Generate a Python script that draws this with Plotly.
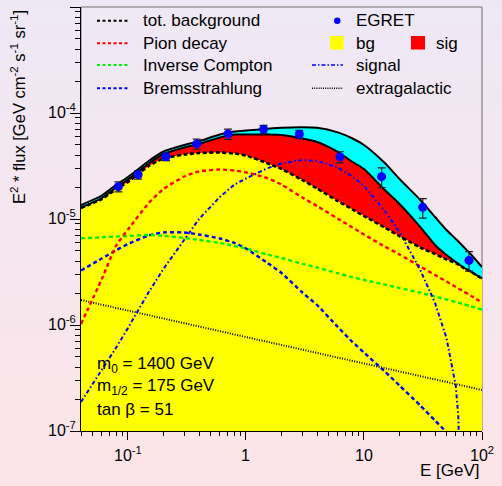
import base64
import math
import plotly.graph_objects as go

# ---------------------------------------------------------------
# Diffuse gamma-ray spectrum: galactic background components,
# neutralino annihilation signal and EGRET data (E^2 * flux)
# ---------------------------------------------------------------

# common energy grid (GeV) for the background components and the bands
energy = [0.04, 0.06, 0.08, 0.1, 0.15, 0.2, 0.3, 0.4, 0.6, 0.8, 1, 1.5, 2, 3, 4,
          6, 8, 10, 15, 20, 30, 40, 50, 60, 70, 80, 100]

# upper edge of the uncertainty band
total_upper = [1.355e-5, 1.666e-5, 2.116e-5, 2.490e-5, 3.526e-5, 4.333e-5, 4.99e-5,
               5.41e-5, 6.27e-5, 6.69e-5, 6.84e-5, 7.09e-5, 7.25e-5, 7.33e-5, 7.25e-5,
               6.57e-5, 5.75e-5, 4.99e-5, 3.375e-5, 2.384e-5, 1.511e-5, 1.044e-5,
               7.87e-6, 6.48e-6, 5.44e-6, 4.675e-6, 3.526e-6]

# background + signal
bg_plus_signal = [1.284e-5, 1.578e-5, 2.004e-5, 2.358e-5, 3.339e-5, 4.104e-5, 4.727e-5,
                  5.101e-5, 5.874e-5, 6.27e-5, 6.27e-5, 6.27e-5, 6.20e-5, 5.75e-5, 5.325e-5,
                  4.287e-5, 3.449e-5, 2.962e-5, 1.877e-5, 1.385e-5, 8.40e-6, 5.685e-6,
                  4.575e-6, 3.93e-6, 3.487e-6, 3.196e-6, 2.745e-6]

total_background = [1.270e-5, 1.544e-5, 1.919e-5, 2.234e-5, 3.162e-5, 3.722e-5, 4.06e-5,
                    4.194e-5, 4.24e-5, 4.15e-5, 3.972e-5, 3.375e-5, 2.962e-5, 2.333e-5,
                    1.940e-5, 1.478e-5, 1.229e-5, 1.067e-5, 8.31e-6, 6.91e-6, 5.38e-6,
                    4.675e-6, 4.15e-6, 3.845e-6, 3.449e-6, 3.196e-6, 2.745e-6]

pion_decay = [1.022e-6, 2.716e-6, 5.685e-6, 7.96e-6, 1.416e-5, 1.919e-5, 2.518e-5,
              2.806e-5, 2.931e-5, 2.867e-5, 2.758e-5, 2.437e-5, 2.116e-5, 1.595e-5,
              1.327e-5, 1.006e-5, 8.31e-6, 7.14e-6, 5.50e-6, 4.625e-6, 3.56e-6,
              2.962e-6, 2.573e-6, 2.283e-6, 2.070e-6, 1.898e-6, 1.630e-6]

inverse_compton = [6.57e-6, 6.72e-6, 6.84e-6, 6.91e-6, 7.07e-6, 6.94e-6, 6.62e-6,
                   6.34e-6, 5.94e-6, 5.56e-6, 5.27e-6, 4.645e-6, 4.29e-6, 3.779e-6,
                   3.487e-6, 3.074e-6, 2.825e-6, 2.658e-6, 2.405e-6, 2.234e-6, 2.013e-6,
                   1.857e-6, 1.740e-6, 1.648e-6, 1.568e-6, 1.501e-6, 1.397e-6]

bremsstrahlung = [3.267e-6, 4.24e-6, 5.10e-6, 5.81e-6, 6.99e-6, 7.46e-6, 7.46e-6,
                  7.14e-6, 6.55e-6, 5.94e-6, 5.27e-6, 3.887e-6, 3.095e-6, 2.026e-6,
                  1.544e-6, 9.57e-7, 6.91e-7, 5.50e-7, 3.64e-7, 2.687e-7, 1.740e-7,
                  1.256e-7, 9.78e-8, 8.05e-8, 6.76e-8, 5.81e-8, 4.575e-8]

# neutralino annihilation signal (cut-off at the neutralino mass)
energy_signal = [0.04, 0.06, 0.08, 0.1, 0.15, 0.2, 0.3, 0.4, 0.6, 0.8, 1, 1.5, 2, 3, 4,
                 6, 8, 10, 15, 20, 30, 40, 50, 60, 63, 64, 65]
signal = [1.877e-7, 3.762e-7, 6.20e-7, 9.37e-7, 2.048e-6, 3.38e-6, 6.34e-6, 1.0e-5,
          1.612e-5, 2.116e-5, 2.411e-5, 2.995e-5, 3.339e-5, 3.603e-5, 3.526e-5, 3.06e-5,
          2.518e-5, 2.048e-5, 1.190e-5, 7.54e-6, 3.303e-6, 1.613e-6, 7.54e-7, 2.658e-7,
          1.364e-7, 9.2e-8, 3.0e-8]

energy_extragalactic = [0.04, 1, 100]
extragalactic = [1.72e-6, 7.74e-7, 2.44e-7]

egret_energy = [0.083, 0.122, 0.210, 0.383, 0.705, 1.41, 2.83, 6.26, 14.1, 31.5, 77.6]
egret_flux = [2.02e-5, 2.62e-5, 3.87e-5, 5.11e-5, 6.34e-5, 7.02e-5, 6.30e-5, 3.85e-5,
              2.51e-5, 1.29e-5, 4.07e-6]
egret_error = [2.2e-6, 2.4e-6, 3.1e-6, 5.6e-6, 7.0e-6, 6.3e-6, 5.7e-6, 4.6e-6, 5.3e-6,
               2.7e-6, 8.5e-7]

x_major = [0.1, 1, 10, 100]
x_tick_text = ["10<sup>-1</sup>", "1", "10", "10<sup>2</sup>"]
y_major = [1e-7, 1e-6, 1e-5, 1e-4]
y_tick_text = ["10<sup>-7</sup>", "10<sup>-6</sup>", "10<sup>-5</sup>", "10<sup>-4</sup>"]
fill_floor = 1e-9

# ---------------------------------------------------------------
# canvas geometry
W, H = 502, 486
L, R, T, B = 81, 20, 7, 55
PW, PH = W - L - R, H - T - B
FONT = "Liberation Sans, Arial, Helvetica, sans-serif"


def px(x):
    """canvas pixel column -> paper x"""
    return (x - L) / PW


def py(y):
    """canvas pixel row (from top) -> paper y"""
    return (H - B - y) / PH


fig = go.Figure()

# ---- filled bands: bg (yellow), sig (red), band on top (cyan)
fig.add_trace(go.Scatter(x=energy, y=[fill_floor] * len(energy), mode="lines",
                         line=dict(width=0), hoverinfo="skip", showlegend=False))
for vals, col in [(total_background, "#FFFF00"), (bg_plus_signal, "#FF0000"),
                  (total_upper, "#00FFFF")]:
    fig.add_trace(go.Scatter(x=energy, y=vals, mode="lines", fill="tonexty",
                             fillcolor=col, line=dict(width=0, shape="spline", smoothing=0.6),
                             hoverinfo="skip", showlegend=False))

# ---- component curves
fig.add_trace(go.Scatter(x=energy_extragalactic, y=extragalactic, mode="lines",
                         line=dict(color="black", width=2, dash="1px,1.5px"),
                         showlegend=False))
for vals, col in [(bremsstrahlung, "#0000FF"), (inverse_compton, "#00EE00"),
                  (pion_decay, "#FF0000")]:
    fig.add_trace(go.Scatter(x=energy, y=vals, mode="lines",
                             line=dict(color=col, width=2.4, dash="4px,3px",
                                       shape="spline", smoothing=0.6),
                             showlegend=False))
fig.add_trace(go.Scatter(x=energy_signal, y=signal, mode="lines",
                         line=dict(color="#0000FF", width=2, dash="4px,2.5px,1.5px,2.5px"),
                         showlegend=False))
fig.add_trace(go.Scatter(x=energy, y=total_background, mode="lines",
                         line=dict(color="black", width=2.6, dash="4px,2.5px",
                                   shape="spline", smoothing=0.6),
                         showlegend=False))
for vals in (bg_plus_signal, total_upper):
    fig.add_trace(go.Scatter(x=energy, y=vals, mode="lines",
                             line=dict(color="black", width=2, shape="spline", smoothing=0.6),
                             showlegend=False))

# ---- EGRET data
fig.add_trace(go.Scatter(x=egret_energy, y=egret_flux, mode="markers",
                         marker=dict(color="#0000FF", size=9, line=dict(width=0)),
                         error_y=dict(type="data", array=egret_error, color="#222222",
                                      thickness=1.2, width=4),
                         showlegend=False))

# ---- axes
x_minor = [m * 10 ** d for d in range(-2, 2) for m in range(2, 10)
           if 0.04 <= m * 10 ** d <= 100]
y_minor = [m * 10 ** d for d in range(-7, -3) for m in range(2, 10)]

fig.update_xaxes(type="log", range=[math.log10(0.04), 2], showline=True,
                 linecolor="black", linewidth=1, ticks="outside", ticklen=8,
                 tickcolor="black", tickvals=x_major, showticklabels=False,
                 showgrid=False, zeroline=False,
                 minor=dict(tickmode="array", tickvals=x_minor, ticks="outside",
                            ticklen=4, tickcolor="black", showgrid=False))
fig.update_yaxes(type="log", range=[-7, -3], showline=True,
                 linecolor="black", linewidth=1, ticks="outside", ticklen=10,
                 tickcolor="black", tickvals=y_major + [1e-3], showticklabels=False,
                 showgrid=False, zeroline=False,
                 minor=dict(tickmode="array", tickvals=y_minor, ticks="outside",
                            ticklen=5, tickcolor="black", showgrid=False))

annotations = []
shapes = []

# tick labels
for v, txt in zip(x_major, x_tick_text):
    annotations.append(dict(x=math.log10(v), xref="x", y=py(466), yref="paper",
                            text=txt, showarrow=False, xanchor="center", yanchor="bottom",
                            font=dict(size=16, color="black", family=FONT)))
for v, txt in zip(y_major, y_tick_text):
    annotations.append(dict(x=px(78), xref="paper", y=math.log10(v), yref="y",
                            yshift=-10, text=txt, showarrow=False, xanchor="right",
                            yanchor="bottom",
                            font=dict(size=16, color="black", family=FONT)))

# axis titles
annotations.append(dict(x=px(482), y=py(470), xref="paper", yref="paper",
                        text="E [GeV]", showarrow=False, xanchor="right", yanchor="middle",
                        font=dict(size=17, color="black", family=FONT)))
annotations.append(dict(x=px(18), y=py(107), xref="paper", yref="paper",
                        text="E<sup>2</sup> * flux [GeV cm<sup>-2</sup> s<sup>-1</sup> sr<sup>-1</sup>]",
                        textangle=-90, showarrow=False, xanchor="center", yanchor="middle",
                        font=dict(size=16.5, color="black", family=FONT)))

# model parameters
for row_y, txt in [(365, "m<sub>0</sub> = 1400 GeV"), (387, "m<sub>1/2</sub> = 175 GeV"),
                   (409, "tan β = 51")]:
    annotations.append(dict(x=px(95), y=py(row_y), xref="paper", yref="paper", text=txt,
                            showarrow=False, xanchor="left", yanchor="middle",
                            font=dict(size=17, color="black", family=FONT)))

# legend, left column
left_items = [(20.7, "black", "tot. background"), (43.3, "#FF0000", "Pion decay"),
              (65, "#00EE00", "Inverse Compton"), (88.3, "#0000FF", "Bremsstrahlung")]
for row_y, col, txt in left_items:
    shapes.append(dict(type="line", xref="paper", yref="paper", x0=px(97), x1=px(128),
                       y0=py(row_y), y1=py(row_y), line=dict(color=col, width=2, dash="3px,2.5px")))
    annotations.append(dict(x=px(141), y=py(row_y), xref="paper", yref="paper", text=txt,
                            showarrow=False, xanchor="left", yanchor="middle",
                            font=dict(size=17, color="black", family=FONT)))

# legend, right column
shapes.append(dict(type="circle", xref="paper", yref="paper", x0=px(334), x1=px(340.5),
                   y0=py(24), y1=py(17.5), fillcolor="#0000FF", line=dict(width=0)))
shapes.append(dict(type="rect", xref="paper", yref="paper", x0=px(330), x1=px(343.5),
                   y0=py(49.5), y1=py(36), fillcolor="#FFFF00", line=dict(width=0)))
shapes.append(dict(type="rect", xref="paper", yref="paper", x0=px(411), x1=px(425),
                   y0=py(49.5), y1=py(36), fillcolor="#FF0000", line=dict(width=0)))
shapes.append(dict(type="line", xref="paper", yref="paper", x0=px(312), x1=px(343),
                   y0=py(65), y1=py(65),
                   line=dict(color="#0000FF", width=1.6, dash="4px,2px,1.5px,2px")))
shapes.append(dict(type="line", xref="paper", yref="paper", x0=px(312), x1=px(343),
                   y0=py(88.3), y1=py(88.3),
                   line=dict(color="black", width=1.6, dash="1px,1.2px")))
for row_x, row_y, txt in [(354, 20.7, "EGRET"), (354, 43.3, "bg"), (434, 43.3, "sig"),
                          (354, 65, "signal"), (354, 88.3, "extragalactic")]:
    annotations.append(dict(x=px(row_x), y=py(row_y), xref="paper", yref="paper", text=txt,
                            showarrow=False, xanchor="left", yanchor="middle",
                            font=dict(size=17, color="black", family=FONT)))

# frame
shapes.append(dict(type="rect", xref="paper", yref="paper", x0=0, x1=1, y0=0, y1=1,
                   line=dict(color="#6E6E6E", width=1), layer="below"))

# vertical background gradient
svg = ('<svg xmlns="http://www.w3.org/2000/svg" width="502" height="486" '
       'preserveAspectRatio="none"><defs><linearGradient id="g" x1="0" y1="0" x2="0" y2="1">'
       '<stop offset="0" stop-color="#EEE8F5"/><stop offset="1" stop-color="#FDE4E8"/>'
       '</linearGradient></defs><rect width="502" height="486" fill="url(#g)"/></svg>')
bg_src = "data:image/svg+xml;base64," + base64.b64encode(svg.encode()).decode()

fig.update_layout(
    width=W, height=H, autosize=False,
    margin=dict(l=L, r=R, t=T, b=B, pad=0),
    paper_bgcolor="#F6E6EE", plot_bgcolor="rgba(0,0,0,0)",
    showlegend=False,
    annotations=annotations, shapes=shapes,
    images=[dict(source=bg_src, xref="paper", yref="paper", x=-L / PW, y=1 + T / PH,
                 sizex=W / PW, sizey=H / PH, sizing="stretch", xanchor="left",
                 yanchor="top", layer="below")],
    font=dict(family=FONT, color="black"),
)

fig.write_html("out.html")
